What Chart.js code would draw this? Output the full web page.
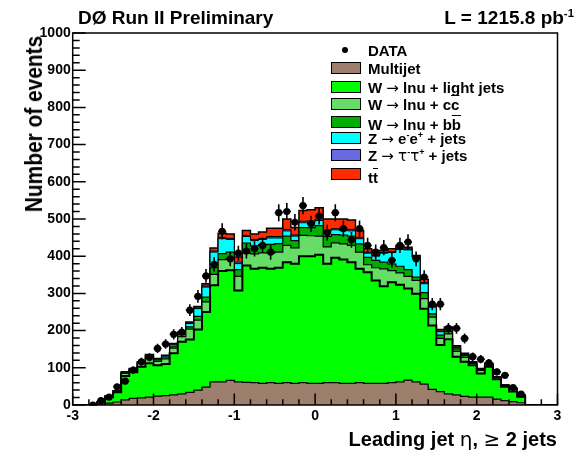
<!DOCTYPE html>
<html><head><meta charset="utf-8">
<script src="https://cdn.jsdelivr.net/npm/chart.js@4.4.1/dist/chart.umd.min.js"></script>
<style>
html,body{margin:0;padding:0;background:#fff;}
#wrap{position:relative;width:582px;height:456px;overflow:hidden;font-family:"Liberation Sans",Arial,Helvetica,sans-serif;font-weight:bold;color:#000;}
canvas{position:absolute;left:0;top:0;}
.t{position:absolute;white-space:nowrap;}
.lg{position:absolute;white-space:nowrap;font-size:15px;line-height:17px;}
.bx{position:absolute;width:28px;height:10px;border:1px solid #000;}
.sym{font-weight:normal;font-family:"DejaVu Sans",sans-serif;}
.ov{text-decoration:overline;}
sup{font-size:60%;vertical-align:0;position:relative;top:-0.6em;}
</style></head><body>
<div id="wrap">
<canvas id="c" width="582" height="456"></canvas>
<div class="t" style="left:78px;top:7px;font-size:19px;line-height:22px;">DØ Run II Preliminary</div>
<div class="t" style="right:8px;top:7px;font-size:19px;line-height:22px;">L = 1215.8 pb<sup>-1</sup></div>
<div class="t" style="left:34px;top:124px;font-size:24px;line-height:24px;transform:translate(-50%,-50%) rotate(-90deg) scaleX(0.87);">Number of events</div>
<div class="t" style="right:25px;top:428px;font-size:20px;line-height:22px;">Leading jet <span class="sym">η</span>, <span class="sym">≥</span> 2 jets</div>
<div id="legend"></div>
</div>
<script>
// ---- data (60 bins of width 0.1 from -3 to 3) ----
const binEdgesMin = -3, binWidth = 0.1;
const multijet = [0,0,0,2,5,8,14,18,19,21,24,25,27,30,34,40,48,62,62,66,62,61,60,58,60,58,60,58,60,58,58,60,60,58,58,60,58,58,58,60,62,67,62,56,42,36,30,27,23,21,21,21,16,12,9,6,0,0,0,0];
const wLight   = [0,0,0,5,16,26,64,70,84,91,83,85,112,140,142,163,202,260,298,296,246,314,306,311,306,311,324,322,340,342,346,320,336,333,326,306,299,277,261,270,261,246,237,203,172,125,147,103,93,86,64,82,53,37,27,16,0,0,0,0];
const wCC      = [0,0,0,1,2,3,7,6,8,14,10,14,14,14,28,25,27,29,31,32,38,33,40,40,42,42,45,42,56,55,50,45,40,42,45,45,20,34,47,31,32,33,36,27,22,18,14,14,12,5,8,5,4,3,6,3,0,0,0,0];
const wBB      = [0,0,0,0,1,1,3,3,3,5,4,5,5,6,6,10,13,18,16,17,18,27,22,22,24,23,25,20,21,22,28,28,22,24,25,22,20,20,18,18,18,18,9,16,9,9,7,7,5,2,3,2,2,1,2,1,0,0,0,0];
const zEE      = [0,0,0,0,0,0,1,1,1,3,2,3,5,4,9,21,27,42,40,34,16,18,14,14,17,15,14,12,13,14,14,14,13,12,14,14,11,11,24,31,45,53,53,24,18,9,7,4,3,1,1,1,1,1,1,1,0,0,0,0];
const zTauTau  = [0,0,0,0,0,0,0,0,0,0,0,0,1,1,1,2,3,3,3,3,4,3,3,3,4,4,4,3,4,4,4,3,3,3,4,3,3,2,2,3,2,3,2,3,2,2,1,1,1,0,0,0,0,0,0,0,0,0,0,0];
const ttbar    = [0,0,0,0,0,0,0,0,1,2,2,2,1,1,3,4,6,8,12,12,14,13,15,17,22,22,28,20,29,30,30,30,26,28,25,19,9,13,5,7,9,4,3,9,3,4,4,3,2,1,1,1,0,0,0,0,0,0,0,0];
const dataCounts = [null,null,0,12,21,49,64,94,116,128,152,164,190,196,255,292,347,378,467,393,408,414,420,429,411,517,520,491,536,487,508,463,517,474,444,474,429,411,423,389,429,438,393,344,271,271,206,206,179,130,123,113,89,80,47,29,null,null,null,null];
const xTickLabels = ['-3','-2','-1','0','1','2','3'];
const yTickLabels = ['0','100','200','300','400','500','600','700','800','900','1000'];

const seriesNames = ['Multijet','W -> lnu + light jets','W -> lnu + cc','W -> lnu + bb','Z -> ee + jets','Z -> tautau + jets','ttbar'];
const seriesVals = [multijet,wLight,wCC,wBB,zEE,zTauTau,ttbar];
const seriesColors = ['#9e7f6e','#00ff00','#66dd66','#00ad00','#00ffff','#6a6ae0','#ff2a00'];
const seriesBorder = [1.2,2,1.2,1.2,1,1,1.5];

const r1 = v => Math.round(v*1000)/1000;
function edgePoints(vals){
  const pts = vals.map((v,i)=>({x:r1(binEdgesMin+binWidth*i), y:v}));
  pts.push({x:r1(binEdgesMin+binWidth*vals.length), y:vals[vals.length-1]});
  return pts;
}
const mcDatasets = seriesVals.map((vals,k)=>({
  label: seriesNames[k],
  data: edgePoints(vals),
  stepped: 'before',
  backgroundColor: seriesColors[k],
  borderColor: '#000',
  borderWidth: seriesBorder[k],
  pointRadius: 0,
  fill: k===0 ? 'origin' : '-1',
  borderJoinStyle: 'miter',
  order: 1
}));
const dataPts = [];
dataCounts.forEach((v,i)=>{ if(v!==null) dataPts.push({x:r1(binEdgesMin+binWidth*(i+0.5)), y:v}); });
const dataDataset = {
  label:'DATA', data:dataPts, stack:'data', showLine:false,
  pointRadius:3.6, pointHoverRadius:3.6, pointBackgroundColor:'#000', pointBorderColor:'#000', pointBorderWidth:0,
  order:-1, fill:false
};

const frameTicks = {
  id:'frameTicks',
  afterDatasetsDraw(chart){
    const {ctx, chartArea:a, scales:{x,y}} = chart;
    ctx.save();
    ctx.strokeStyle='#000';
    // statistical error bars (sqrt N) and half-bin horizontal bars
    ctx.lineWidth=1.6;
    ctx.beginPath();
    dataPts.forEach(p=>{
      const e = Math.sqrt(p.y);
      const px = x.getPixelForValue(p.x);
      const py = y.getPixelForValue(p.y);
      ctx.moveTo(px, y.getPixelForValue(p.y+e)); ctx.lineTo(px, y.getPixelForValue(Math.max(0,p.y-e)));
      ctx.moveTo(x.getPixelForValue(p.x-binWidth/2), py); ctx.lineTo(x.getPixelForValue(p.x+binWidth/2), py);
    });
    ctx.stroke();
    // frame
    ctx.lineWidth=1.5;
    ctx.strokeRect(a.left, a.top, a.right-a.left, a.bottom-a.top);
    // inward ticks
    ctx.beginPath();
    for(let k=0;k<=50;k++){
      const v=k*20; const py=y.getPixelForValue(v);
      const len = (k%5===0)?13:7;
      ctx.moveTo(a.left,py); ctx.lineTo(a.left+len,py);
    }
    for(let k=0;k<=30;k++){
      const v=-3+0.2*k; const px=x.getPixelForValue(v);
      const len = (k%5===0)?11.5:5.7;
      ctx.moveTo(px,a.bottom); ctx.lineTo(px,a.bottom-len);
    }
    ctx.stroke();
    ctx.restore();
  }
};

const tickFont = {family:'"Liberation Sans", Arial, sans-serif', size:14, weight:'bold'};
new Chart(document.getElementById('c'), {
  type:'line',
  data:{datasets:[...mcDatasets, dataDataset]},
  options:{
    responsive:false, animation:false, devicePixelRatio:1,
    layout:{padding:{left:0,right:24.5,top:33,bottom:0}},
    plugins:{legend:{display:false}, tooltip:{enabled:false}, filler:{propagate:false}},
    elements:{line:{tension:0}},
    scales:{
      x:{type:'linear', min:-3, max:3,
        afterBuildTicks: s=>{ s.ticks = xTickLabels.map(v=>({value:Number(v)})); },
        afterFit: s=>{ s.height = 51; },
        grid:{display:false, drawTicks:false}, border:{display:false},
        ticks:{font:tickFont, color:'#000', padding:3, maxRotation:0, autoSkip:false,
          callback:(v,i)=>xTickLabels[i]}
      },
      y:{type:'linear', min:0, max:1000, stacked:true,
        afterBuildTicks: s=>{ s.ticks = yTickLabels.map(v=>({value:Number(v)})); },
        afterFit: s=>{ s.width = 72.7; },
        grid:{display:false, drawTicks:false}, border:{display:false},
        ticks:{font:tickFont, color:'#000', padding:2, autoSkip:false,
          callback:(v,i)=>yTickLabels[i]}
      }
    }
  },
  plugins:[frameTicks]
});

// ---- legend (HTML text) ----
const legendRows = [
  {cy:50, html:'DATA', dot:true},
  {cy:68, html:'Multijet', c:0},
  {cy:87, html:'W <span class="sym">\u2192</span> lnu + light jets', c:1},
  {cy:104, html:'W <span class="sym">\u2192</span> lnu + c<span class="ov">c</span>', c:2},
  {cy:122, html:'W <span class="sym">\u2192</span> lnu + b<span class="ov">b</span>', c:3, ty:2},
  {cy:138, html:'Z <span class="sym">\u2192</span> e<sup>-</sup>e<sup>+</sup> + jets', c:4},
  {cy:155, html:'Z <span class="sym">\u2192</span> <span class="sym">\u03c4</span><sup>-</sup><span class="sym">\u03c4</span><sup>+</sup> + jets', c:5},
  {cy:174, html:'t<span class="ov">t</span>', c:6, ty:3}
];
const lg = document.getElementById('legend');
legendRows.forEach(r=>{
  if(r.dot){
    const d=document.createElement('div');
    d.style.cssText='position:absolute;left:342px;top:'+(r.cy-3)+'px;width:6px;height:6px;border-radius:50%;background:#000;';
    lg.appendChild(d);
  } else {
    const b=document.createElement('div'); b.className='bx';
    b.style.left='331px'; b.style.top=(r.cy-6)+'px'; b.style.background=seriesColors[r.c];
    lg.appendChild(b);
  }
  const t=document.createElement('div'); t.className='lg';
  t.style.left='368px'; t.style.top=(r.cy-8.5+(r.ty||0))+'px'; t.innerHTML=r.html;
  lg.appendChild(t);
});
</script>
</body></html>
